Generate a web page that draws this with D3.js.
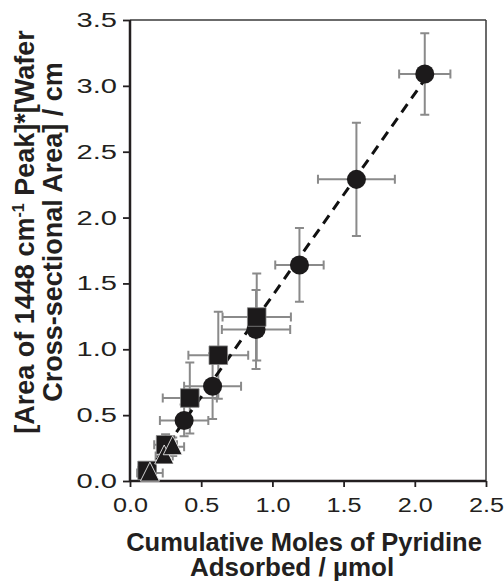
<!DOCTYPE html>
<html>
<head>
<meta charset="utf-8">
<script src="https://cdn.jsdelivr.net/npm/d3@7"></script>
<style>
  html, body { margin: 0; padding: 0; background: #fff; }
  svg { display: block; }
  text { font-family: "Liberation Sans", Arial, sans-serif; fill: #231f20; }
</style>
</head>
<body>
<svg id="chart" width="504" height="581"></svg>
<script>
// Circle series: x, y, x error, y error
const circleX    = [0.38, 0.58, 0.885, 1.19, 1.59, 2.07];
const circleY    = [0.46, 0.72, 1.15, 1.64, 2.29, 3.09];
const circleXErr = [0.17, 0.20, 0.24, 0.17, 0.27, 0.18];
const circleYErr = [0.12, 0.25, 0.30, 0.28, 0.43, 0.31];

// Square series
const squareX    = [0.12, 0.25, 0.42, 0.62, 0.89];
const squareY    = [0.08, 0.275, 0.63, 0.955, 1.245];
const squareXErr = [0.06, 0.08, 0.19, 0.21, 0.24];
const squareYErr = [0.04, 0.08, 0.27, 0.33, 0.33];

// Triangle series
const triangleX    = [0.14, 0.24, 0.30];
const triangleY    = [0.06, 0.19, 0.26];
const triangleXErr = [0.09, 0.06, 0.08];
const triangleYErr = [0.03, 0.05, 0.07];

const xTicks = [0, 0.5, 1.0, 1.5, 2.0, 2.5];
const yTicks = [0, 0.5, 1.0, 1.5, 2.0, 2.5, 3.0, 3.5];

const svg = d3.select("#chart");
const plotL = 130, plotR = 486, plotT = 20, plotB = 481;

const x = d3.scaleLinear().domain([0, 2.5]).range([plotL, plotR]);
const y = d3.scaleLinear().domain([0, 3.5]).range([plotB, plotT]);

function zip(xs, ys, xe, ye) {
  return xs.map((v, i) => ({ x: v, y: ys[i], xe: xe[i], ye: ye[i] }));
}

// Upward triangle marker centred on its point
const triangleSymbol = {
  draw(ctx) {
    ctx.moveTo(0, -11);
    ctx.lineTo(9.5, 8);
    ctx.lineTo(-9.5, 8);
    ctx.closePath();
  }
};

const series = [
  { name: "circle",   pts: zip(circleX, circleY, circleXErr, circleYErr), symbol: d3.symbolCircle, size: 285 },
  { name: "square",   pts: zip(squareX, squareY, squareXErr, squareYErr), symbol: d3.symbolSquare, size: 345 },
  { name: "triangle", pts: zip(triangleX, triangleY, triangleXErr, triangleYErr), symbol: triangleSymbol, size: 1 }
];

// Frame (top and right edges)
svg.append("line").attr("x1", plotL).attr("x2", plotR).attr("y1", plotT).attr("y2", plotT)
  .attr("stroke", "#3a3a3a").attr("stroke-width", 1.5);
svg.append("line").attr("x1", plotR).attr("x2", plotR).attr("y1", plotT).attr("y2", plotB)
  .attr("stroke", "#3a3a3a").attr("stroke-width", 1.5);

// Axes
const xAxis = d3.axisBottom(x).tickValues(xTicks).tickFormat(d3.format(".1f")).tickSize(6).tickPadding(10);
const yAxis = d3.axisLeft(y).tickValues(yTicks).tickFormat(d3.format(".1f")).tickSize(7).tickPadding(6);

const gx = svg.append("g").attr("transform", `translate(0,${plotB})`).call(xAxis);
const gy = svg.append("g").attr("transform", `translate(${plotL},0)`).call(yAxis);
[gx, gy].forEach(g => {
  g.select(".domain").attr("stroke", "#231f20").attr("stroke-width", 2.5);
  g.selectAll(".tick line").attr("stroke", "#231f20").attr("stroke-width", 1.8);
  g.selectAll(".tick text").attr("font-size", 20.5).attr("fill", "#231f20")
    .attr("font-family", "Liberation Sans, Arial, sans-serif");
});
gx.select(".domain").attr("d", `M${plotL},0H${plotR}`);
gy.select(".domain").attr("d", `M0,${plotT}V${plotB}`);

// Wide tick numerals
const sxX = 1.23, sxY = 1.42;
gx.selectAll(".tick text").attr("transform", `scale(${sxX},1)`);
gy.selectAll(".tick text").attr("x", -13 / sxY).attr("transform", `scale(${sxY},1)`);

// Least-squares trend line over all points
const all = series.flatMap(s => s.pts);
const mx = d3.mean(all, d => d.x), my = d3.mean(all, d => d.y);
const slope = d3.sum(all, d => (d.x - mx) * (d.y - my)) / d3.sum(all, d => (d.x - mx) ** 2);
const intercept = my - slope * mx;
const [xmin, xmax] = d3.extent(all, d => d.x);

// Error bars for each series
const errColor = "#8a8a8a";
const cap = 4.5;
series.forEach(s => {
  const eb = svg.append("g").attr("class", s.name + "-err")
    .attr("stroke", errColor).attr("stroke-width", 2).attr("fill", "none");
  s.pts.forEach(p => {
    const cx = x(p.x), cy = y(p.y);
    const x0 = x(p.x - p.xe), x1 = x(p.x + p.xe);
    const y0 = y(p.y - p.ye), y1 = y(p.y + p.ye);
    eb.append("path").attr("d",
      `M${x0},${cy}H${x1}M${x0},${cy - cap}V${cy + cap}M${x1},${cy - cap}V${cy + cap}` +
      `M${cx},${y0}V${y1}M${cx - cap},${y0}H${cx + cap}M${cx - cap},${y1}H${cx + cap}`);
  });
});

svg.append("line")
  .attr("x1", x(xmin)).attr("y1", y(slope * xmin + intercept))
  .attr("x2", x(xmax)).attr("y2", y(slope * xmax + intercept))
  .attr("stroke", "#111").attr("stroke-width", 3).attr("stroke-dasharray", "10,7");

// Markers
series.forEach(s => {
  const sym = d3.symbol().type(s.symbol).size(s.size);
  svg.append("g").attr("class", s.name).selectAll("path").data(s.pts).join("path")
    .attr("d", sym)
    .attr("transform", d => `translate(${x(d.x)},${y(d.y)})`)
    .attr("fill", "#1c1a1b")
    .attr("stroke", s.name === "circle" ? "none" : (s.name === "triangle" ? "#fff" : "#888"))
    .attr("stroke-width", s.name === "circle" ? 0 : 0.8);
});

// Axis titles
svg.append("text").attr("x", 304).attr("y", 551).attr("text-anchor", "middle")
  .attr("font-size", 25.5).attr("font-weight", "bold").text("Cumulative Moles of Pyridine");
svg.append("text").attr("x", 292).attr("y", 576).attr("text-anchor", "middle")
  .attr("font-size", 26).attr("font-weight", "bold").text("Adsorbed / µmol");

const yt = svg.append("g").attr("transform", "translate(0,232) rotate(-90)");
const t1 = yt.append("text").attr("x", 0).attr("y", 34).attr("text-anchor", "middle")
  .attr("font-size", 27).attr("font-weight", "bold");
t1.append("tspan").text("[Area of 1448 cm");
t1.append("tspan").attr("font-size", 16).attr("dy", -10).text("-1");
t1.append("tspan").attr("dy", 10).text(" Peak]*[Wafer");
yt.append("text").attr("x", 0).attr("y", 62).attr("text-anchor", "middle")
  .attr("font-size", 27).attr("font-weight", "bold").text("Cross-sectional Area] / cm");
</script>
</body>
</html>
